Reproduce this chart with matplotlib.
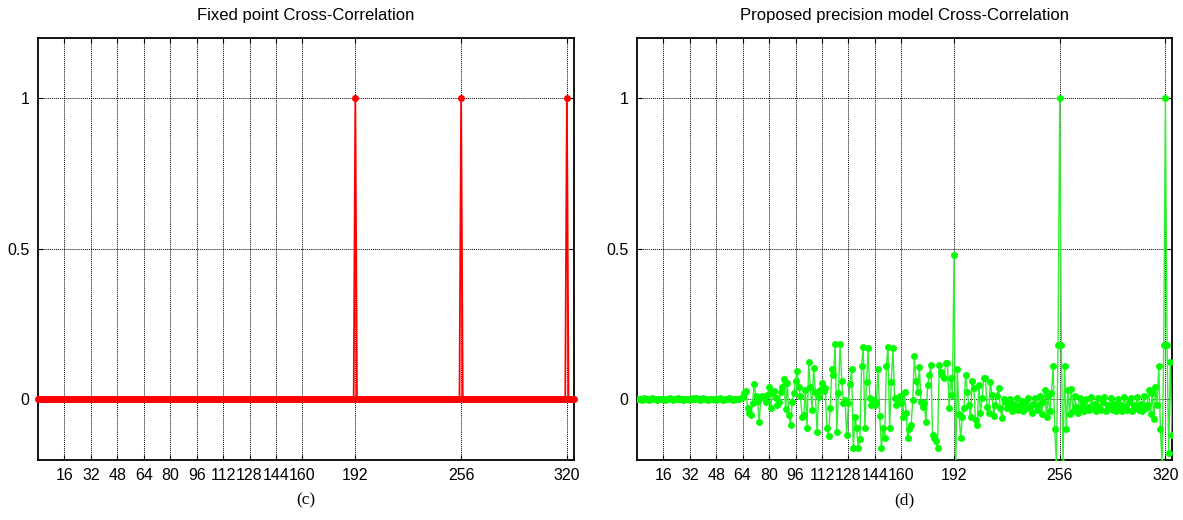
import numpy as np
import matplotlib
matplotlib.use("Agg")
import matplotlib.pyplot as plt

# ---------------- data ----------------
x_ticks = [16, 32, 48, 64, 80, 96, 112, 128, 144, 160, 192, 256, 320]
y_ticks = [0, 0.5, 1]
y_ticklabels = ["0", "0.5", "1"]

title_left = "Fixed point Cross-Correlation"
title_right = "Proposed precision model Cross-Correlation"
label_left = "(c)"
label_right = "(d)"

# Fixed point: zero everywhere except unit peaks
n_samples_fixed = 325
fixed_peak_positions = [192, 256, 320]
fixed_peak_values = [1.0, 1.0, 1.0]

# Proposed precision model (n = 0..324)
prop_seg_a = [  # n 0-63
    0.000, 0.002, 0.001, -0.001, 0.003, 0.001, 0.000, -0.002,
    0.001, 0.004, 0.002, 0.000, -0.001, 0.001, 0.002, 0.000,
    0.001, -0.002, 0.000, 0.001, 0.003, 0.001, -0.001, 0.000,
    0.002, 0.004, 0.001, 0.000, -0.002, 0.001, 0.002, 0.000,
    -0.001, 0.001, 0.003, 0.002, 0.004, 0.001, -0.001, 0.000,
    0.003, 0.001, 0.000, -0.002, 0.001, 0.002, 0.000, 0.001,
    -0.001, 0.002, 0.003, 0.000, -0.001, 0.001, 0.002, 0.000,
    0.003, 0.001, -0.001, 0.000, 0.002, 0.001, 0.000, 0.003,
]
prop_seg_b = [  # n 64-131
    0.009, 0.022, 0.029, -0.030, -0.045, -0.052, -0.013, 0.051,
    0.010, -0.006, -0.076, 0.009, 0.012, 0.003, -0.008, 0.015,
    0.042, -0.030, 0.020, 0.028, 0.005, -0.019, -0.008, 0.023,
    0.040, 0.068, -0.033, 0.055, -0.052, -0.085, -0.010, 0.020,
    0.062, 0.095, 0.042, 0.010, -0.058, -0.052, 0.031, -0.096,
    0.125, 0.040, -0.035, 0.105, 0.025, -0.110, 0.009, 0.030,
    0.055, 0.028, 0.037, -0.096, -0.121, -0.030, 0.100, 0.081,
    0.184, -0.107, 0.022, 0.184, 0.060, -0.013, -0.002, -0.120,
    -0.013, 0.050, 0.100, -0.163,
]
prop_seg_c = [  # n 132-200
    -0.058, -0.096, -0.163, -0.133, 0.112, 0.175, -0.096, 0.059,
    0.169, 0.003, -0.019, -0.002, -0.019, -0.008, 0.100, -0.055,
    -0.163, -0.096, -0.130, 0.112, 0.175, -0.096, 0.059, 0.169,
    0.003, -0.019, -0.002, 0.010, -0.013, -0.058, 0.025, -0.047,
    -0.130, -0.100, -0.085, -0.002, 0.145, 0.060, 0.025, 0.108,
    -0.008, -0.024, -0.013, -0.076, 0.048, 0.081, 0.114, -0.118,
    -0.130, -0.140, -0.163, 0.114, 0.092, 0.080, 0.070, 0.120,
    0.120, -0.030, 0.070, 0.014, 0.480, -0.250, 0.100, -0.050,
    -0.130, -0.060, -0.030, 0.081, 0.025,
]
prop_seg_d = [  # n 201-251
    -0.020, -0.060, 0.060, 0.037, -0.070, -0.085, 0.048, -0.047,
    0.003, 0.070, 0.072, -0.024, -0.047, 0.059, 0.014, -0.054,
    -0.019, 0.010, 0.037, -0.030, -0.063, 0.000, -0.010, -0.030,
    -0.020, 0.000, -0.040, -0.015, -0.025, 0.003, -0.035, -0.020,
    -0.005, -0.040, -0.010, -0.030, 0.005, -0.025, -0.045, -0.015,
    0.003, -0.035, -0.020, 0.010, -0.050, -0.010, 0.030, -0.060,
    0.010, -0.040, 0.020,
]
prop_seg_e = [  # n 252-260
    0.110, -0.100, -0.210, 0.180, 1.000, 0.180, -0.210, 0.110, -0.100,
]
prop_seg_f = [  # n 261-315
    0.030, -0.050, 0.035, -0.040, 0.010, -0.025, -0.045, 0.005,
    -0.030, -0.010, -0.040, 0.000, -0.025, -0.035, 0.008, -0.030,
    -0.015, -0.040, 0.005, -0.025, -0.035, -0.010, 0.008, -0.040,
    -0.020, -0.030, 0.005, -0.035, -0.015, -0.040, 0.000, -0.030,
    -0.020, -0.040, 0.008, -0.025, -0.035, -0.010, 0.005, -0.040,
    -0.020, -0.030, 0.008, -0.035, -0.015, -0.040, 0.010, -0.030,
    -0.020, 0.030, -0.050, 0.020, -0.065, 0.040, -0.020,
]
prop_seg_g = [  # n 316-324
    0.110, -0.100, -0.210, 0.180, 1.000, 0.180, -0.180, 0.125, -0.118,
]

# ---------------- build series ----------------
fixed_vals = np.zeros(n_samples_fixed)
fixed_vals[fixed_peak_positions] = fixed_peak_values
fixed_x = np.arange(n_samples_fixed)

prop_vals = np.array(prop_seg_a + prop_seg_b + prop_seg_c + prop_seg_d
                     + prop_seg_e + prop_seg_f + prop_seg_g)
prop_x = np.arange(len(prop_vals))

# ---------------- figure ----------------
W, H = 1183, 520
fig = plt.figure(figsize=(W / 100, H / 100), dpi=100)

sans = ["Liberation Sans", "DejaVu Sans"]
serif = ["Liberation Serif", "DejaVu Serif"]


def px_axes(l, r, t, b):
    return fig.add_axes([l / W, 1 - b / H, (r - l) / W, (b - t) / H])


ax1 = px_axes(38, 573.5, 38, 459.5)
ax2 = px_axes(637, 1172, 38, 459.5)

for ax, title, lab in ((ax1, title_left, label_left), (ax2, title_right, label_right)):
    ax.set_xlim(0, 324)
    ax.set_ylim(-0.2, 1.2)
    ax.set_xticks(x_ticks)
    ax.set_xticklabels([str(t) for t in x_ticks], family=sans, fontsize=11.5)
    ax.set_yticks(y_ticks)
    ax.set_yticklabels(y_ticklabels, family=sans, fontsize=11.5)
    ax.tick_params(direction="in", top=True, right=True, length=3.5,
                   width=0.8, pad=6, color="black")
    ax.grid(True, color="black", linestyle=(0, (1, 1)), linewidth=0.7)
    ax.set_axisbelow(True)
    for sp in ax.spines.values():
        sp.set_linewidth(1.3)
        sp.set_color("black")
    ax.set_title(title, family=sans, fontsize=12, pad=13)
    ax.text(0.5, -0.098, lab, transform=ax.transAxes, ha="center", va="center",
            family=serif, fontsize=12.5)

ax1.plot(fixed_x, fixed_vals, color="#ff0000", linewidth=1.3, marker="o",
         markersize=5.0, markeredgewidth=0, clip_on=False, zorder=3)

ax2.plot(prop_x, prop_vals, color="#33ee33", linewidth=1.0, zorder=3)
ax2.plot(prop_x, prop_vals, linestyle="none", marker="o", markersize=5.0,
         markerfacecolor="#00ff00", markeredgewidth=0, zorder=4)

fig.savefig("out.png", dpi=100)
